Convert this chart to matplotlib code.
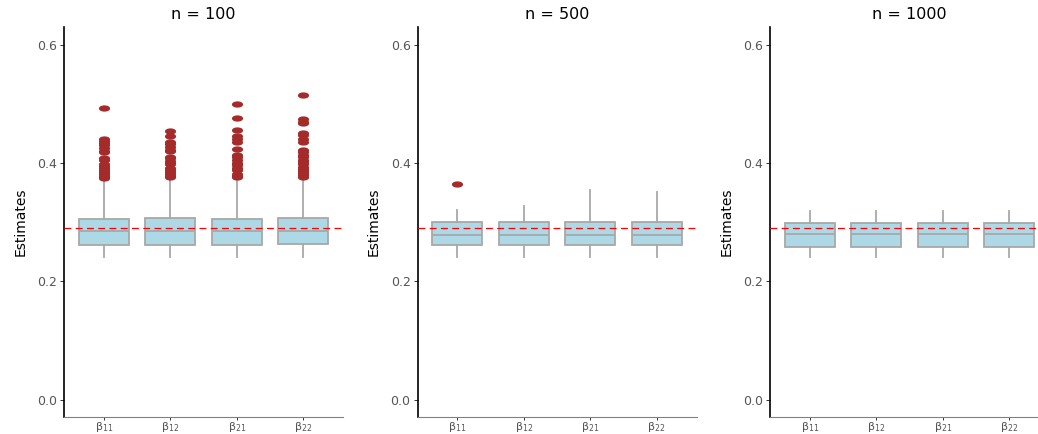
import matplotlib
matplotlib.use("Agg")
import matplotlib.pyplot as plt
from matplotlib.path import Path
from matplotlib.transforms import Affine2D

# panel titles, category labels, true value
titles = ["n = 100", "n = 500", "n = 1000"]
labels = [r"β$_{11}$", r"β$_{12}$", r"β$_{21}$", r"β$_{22}$"]
true_val = 0.29

# box summaries per panel: one entry per beta
q1_100 = [0.262, 0.262, 0.262, 0.263]
med_100 = [0.286, 0.285, 0.286, 0.285]
q3_100 = [0.306, 0.308, 0.306, 0.308]
lo_100 = [0.242, 0.242, 0.242, 0.242]
hi_100 = [0.371, 0.373, 0.371, 0.374]
out_100 = [
    [0.493, 0.441, 0.438, 0.434, 0.430, 0.426, 0.421, 0.418, 0.409, 0.406,
     0.398, 0.395, 0.391, 0.388, 0.385, 0.382, 0.379, 0.377, 0.375],
    [0.455, 0.445, 0.436, 0.432, 0.427, 0.423, 0.420, 0.411, 0.408, 0.404,
     0.401, 0.398, 0.391, 0.388, 0.385, 0.381, 0.378, 0.376],
    [0.500, 0.476, 0.456, 0.445, 0.441, 0.436, 0.424, 0.414, 0.411, 0.405,
     0.401, 0.396, 0.392, 0.389, 0.381, 0.378, 0.376],
    [0.515, 0.474, 0.470, 0.467, 0.451, 0.447, 0.441, 0.436, 0.422, 0.418,
     0.414, 0.410, 0.406, 0.402, 0.398, 0.394, 0.390, 0.386, 0.383, 0.380, 0.377],
]

q1_500 = [0.261, 0.261, 0.261, 0.261]
med_500 = [0.279, 0.279, 0.279, 0.279]
q3_500 = [0.301, 0.301, 0.301, 0.301]
lo_500 = [0.241, 0.241, 0.241, 0.241]
hi_500 = [0.320, 0.328, 0.354, 0.351]
out_500 = [[0.364], [], [], []]

q1_1000 = [0.259, 0.259, 0.259, 0.259]
med_1000 = [0.280, 0.280, 0.280, 0.280]
q3_1000 = [0.299, 0.299, 0.299, 0.299]
lo_1000 = [0.241, 0.241, 0.241, 0.241]
hi_1000 = [0.319, 0.319, 0.319, 0.319]
out_1000 = [[], [], [], []]

panels = [
    (q1_100, med_100, q3_100, lo_100, hi_100, out_100),
    (q1_500, med_500, q3_500, lo_500, hi_500, out_500),
    (q1_1000, med_1000, q3_1000, lo_1000, hi_1000, out_1000),
]

W, H = 1038, 434
fig = plt.figure(figsize=(W / 100, H / 100), dpi=100)
lefts = [64, 417.5, 770]

edge = "#A8A8A8"
tick_col = "#555555"
oval = Path.unit_circle().transformed(Affine2D().scale(1, 0.5))

for i, (q1, med, q3, lo, hi, out) in enumerate(panels):
    ax = fig.add_axes([lefts[i] / W, 17 / H, 279 / W, 390 / H])
    stats = []
    for k in range(4):
        stats.append(dict(q1=q1[k], med=med[k], q3=q3[k], whislo=lo[k],
                          whishi=hi[k], fliers=out[k], label=labels[k]))
    ax.bxp(stats, positions=[1, 2, 3, 4], widths=0.75, patch_artist=True,
           showcaps=False,
           boxprops=dict(facecolor="#ADD8E6", edgecolor=edge, linewidth=1.3),
           medianprops=dict(color=edge, linewidth=1.3),
           whiskerprops=dict(color=edge, linewidth=1.3),
           flierprops=dict(marker=oval, markerfacecolor="#A52A2A",
                           markeredgecolor="#A52A2A", markersize=7))
    ax.axhline(true_val, color="#FF0000", linewidth=0.9, dashes=(5.5, 3.5), zorder=5)

    ax.set_xlim(0.4, 4.6)
    ax.set_ylim(-0.029, 0.63)
    ax.set_yticks([0.0, 0.2, 0.4, 0.6])
    ax.set_yticklabels(["0.0", "0.2", "0.4", "0.6"])
    ax.set_xticks([1, 2, 3, 4])
    ax.set_xticklabels(labels)
    ax.tick_params(axis="y", length=3, width=0.7, color="#333333",
                   labelcolor=tick_col, labelsize=9, pad=2)
    ax.tick_params(axis="x", length=2, width=0.7, color="#333333",
                   labelcolor=tick_col, labelsize=8, pad=0.5)
    for s in ("top", "right"):
        ax.spines[s].set_visible(False)
    ax.spines["left"].set_linewidth(1.2)
    ax.spines["left"].set_color("black")
    ax.spines["bottom"].set_linewidth(0.8)
    ax.spines["bottom"].set_color("#808080")

    ax.set_title(titles[i], fontsize=11.5, pad=6, fontweight="medium")
    ax.set_ylabel("Estimates", family=["Liberation Sans Narrow", "DejaVu Sans"],
                  fontsize=10, labelpad=7)

fig.savefig("out.png", dpi=100)
